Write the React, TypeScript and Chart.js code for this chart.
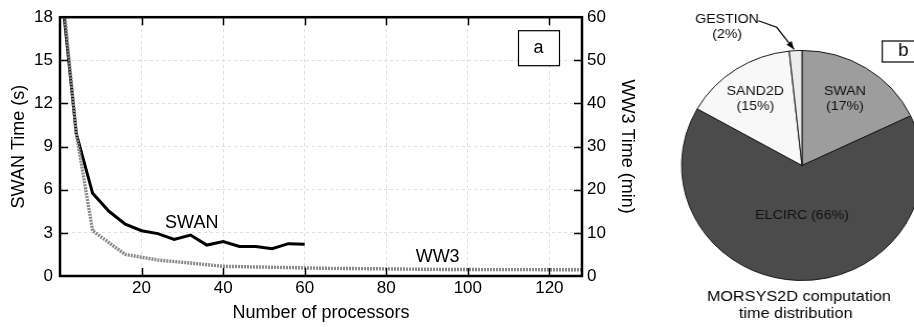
import React, { useEffect, useRef } from 'react';
import { Chart, registerables } from 'chart.js';

Chart.register(...registerables);

const FONT = '"Liberation Sans", Arial, Helvetica, sans-serif';

// ---- Panel a data ----
const swanProcs = [1, 4, 8, 12, 16, 20, 24, 28, 32, 36, 40, 44, 48, 52, 56, 60];
const swanTimes = [18.1, 9.9, 5.75, 4.5, 3.6, 3.15, 2.95, 2.55, 2.85, 2.15, 2.4, 2.05, 2.05, 1.9, 2.25, 2.2];
const ww3Procs = [1, 4, 8, 16, 24, 32, 40, 48, 64, 96, 128];
const ww3Times = [62, 33, 10.5, 5, 3.7, 3.0, 2.25, 2.1, 1.8, 1.5, 1.45];

// ---- Panel b data ----
const pieNames = ['SWAN', 'ELCIRC', 'SAND2D', 'GESTION'];
const pieShares = [17.9, 65.3, 15.1, 1.7];
const piePctText = ['(17%)', '(66%)', '(15%)', '(2%)'];
const pieColors = ['#9d9d9d', '#4b4b4b', '#f8f8f8', '#ececec'];

const PIE_W = 260;
const PIE_SX = 1.047;

const frameTicksPlugin = {
  id: 'frameTicks',
  afterDatasetsDraw(chart: any) {
    const { ctx, chartArea: a, scales } = chart;
    const TL = 8;
    ctx.save();
    ctx.strokeStyle = '#000';
    ctx.lineWidth = 1.5;
    ctx.beginPath();
    scales.x.ticks.forEach((t: any) => {
      if (t.value <= 0 || t.value >= scales.x.max) return;
      const px = Math.round(scales.x.getPixelForValue(t.value)) + 0.5;
      ctx.moveTo(px, a.top);
      ctx.lineTo(px, a.top + TL);
      ctx.moveTo(px, a.bottom);
      ctx.lineTo(px, a.bottom - TL);
    });
    scales.y.ticks.forEach((t: any) => {
      if (t.value <= 0 || t.value >= scales.y.max) return;
      const py = Math.round(scales.y.getPixelForValue(t.value)) + 0.5;
      ctx.moveTo(a.left, py);
      ctx.lineTo(a.left + TL, py);
    });
    scales.y2.ticks.forEach((t: any) => {
      if (t.value <= 0 || t.value >= scales.y2.max) return;
      const py = Math.round(scales.y2.getPixelForValue(t.value)) + 0.5;
      ctx.moveTo(a.right, py);
      ctx.lineTo(a.right - TL, py);
    });
    ctx.stroke();
    ctx.lineWidth = 2.5;
    ctx.strokeRect(a.left, a.top, a.right - a.left, a.bottom - a.top);

    ctx.fillStyle = '#000';
    ctx.font = `18px ${FONT}`;
    ctx.textAlign = 'center';
    ctx.textBaseline = 'middle';
    ctx.fillText('SWAN', scales.x.getPixelForValue(32.3), scales.y.getPixelForValue(3.68));
    ctx.fillText('WW3', scales.x.getPixelForValue(92.6), scales.y.getPixelForValue(1.35));

    // panel tag "a"
    const bw = 41, bh = 35;
    const bx = a.right - 23 - bw;
    const by = a.top + 13;
    ctx.lineWidth = 1.2;
    ctx.fillStyle = '#fff';
    ctx.fillRect(bx, by, bw, bh);
    ctx.strokeRect(bx + 0.5, by + 0.5, bw, bh);
    ctx.fillStyle = '#000';
    ctx.fillText('a', bx + bw / 2, by + bh / 2);
    ctx.restore();
  },
};

const pieTextPlugin = {
  id: 'pieText',
  afterDraw(chart: any) {
    const { ctx } = chart;
    const arc = chart.getDatasetMeta(0).data[0];
    const cx = arc.x, cy = arc.y;
    ctx.save();
    ctx.fillStyle = '#111';
    ctx.textAlign = 'center';
    ctx.textBaseline = 'middle';
    ctx.font = `13.5px ${FONT}`;
    ctx.fillText(pieNames[0], cx + 41.1, cy - 74);
    ctx.fillText(piePctText[0], cx + 41.1, cy - 58.8);
    ctx.fillText(pieNames[2], cx - 44.6, cy - 74);
    ctx.fillText(piePctText[2], cx - 44.6, cy - 58.8);
    ctx.fillText(`${pieNames[1]} ${piePctText[1]}`, cx, cy + 50);
    ctx.fillStyle = '#000';
    ctx.fillText(pieNames[3], cx - 71.6, cy - 146);
    ctx.fillText(piePctText[3], cx - 71.6, cy - 131);

    // arrow to GESTION slice
    ctx.strokeStyle = '#000';
    ctx.lineWidth = 1.2;
    const p0 = [cx - 41.7, cy - 144.8];
    const p1 = [cx - 24.2, cy - 138.2];
    const p2 = [cx - 7.6, cy - 116.2];
    ctx.beginPath();
    ctx.moveTo(p0[0], p0[1]);
    ctx.lineTo(p1[0], p1[1]);
    ctx.lineTo(p2[0], p2[1]);
    ctx.stroke();
    const ang = Math.atan2(p2[1] - p1[1], p2[0] - p1[0]);
    const hl = 8, hw = 3;
    ctx.beginPath();
    ctx.moveTo(p2[0], p2[1]);
    ctx.lineTo(p2[0] - hl * Math.cos(ang) + hw * Math.sin(ang), p2[1] - hl * Math.sin(ang) - hw * Math.cos(ang));
    ctx.lineTo(p2[0] - hl * Math.cos(ang) - hw * Math.sin(ang), p2[1] - hl * Math.sin(ang) + hw * Math.cos(ang));
    ctx.closePath();
    ctx.fill();

    // title
    ctx.font = `15.5px ${FONT}`;
    ctx.fillText('MORSYS2D computation', cx - 3, cy + 131.2);
    ctx.fillText('time distribution', cx - 6, cy + 148.3);

    // panel tag "b"
    const bx = cx + 76.1, by = cy - 125;
    const bw = 41.4, bh = 21;
    ctx.fillStyle = '#fff';
    ctx.fillRect(bx, by, bw, bh);
    ctx.strokeRect(bx + 0.5, by + 0.5, bw, bh);
    ctx.fillStyle = '#000';
    ctx.font = `18px ${FONT}`;
    ctx.fillText('b', cx + 96.8, cy - 114);
    ctx.restore();
  },
};

export default function App() {
  const lineRef = useRef<HTMLCanvasElement | null>(null);
  const pieRef = useRef<HTMLCanvasElement | null>(null);

  useEffect(() => {
    const lineChart = new Chart(lineRef.current as HTMLCanvasElement, {
      type: 'line',
      data: {
        datasets: [
          {
            label: 'WW3',
            data: ww3Procs.map((x, i) => ({ x, y: ww3Times[i] })),
            yAxisID: 'y2',
            borderColor: '#8a8a8a',
            borderWidth: 3.4,
            borderDash: [2, 1],
            pointRadius: 0,
            tension: 0,
            fill: false,
          },
          {
            label: 'SWAN',
            data: swanProcs.map((x, i) => ({ x, y: swanTimes[i] })),
            yAxisID: 'y',
            borderColor: '#000',
            borderWidth: 3,
            pointRadius: 0,
            tension: 0,
            fill: false,
          },
        ],
      },
      options: {
        responsive: false,
        animation: false,
        devicePixelRatio: 1,
        layout: { padding: { top: 13, left: 0, right: 0, bottom: 0 } },
        plugins: { legend: { display: false }, tooltip: { enabled: false } },
        scales: {
          x: {
            type: 'linear',
            min: 0,
            max: 128,
            ticks: {
              stepSize: 20,
              includeBounds: false,
              padding: 2,
              color: '#000',
              font: { family: FONT, size: 17 },
              callback: (v: any) => (v === 0 ? '' : String(v)),
            },
            grid: { color: '#dedede', lineWidth: 1, drawTicks: false },
            border: { display: false, dash: [3, 3] },
            title: {
              display: true,
              text: 'Number of processors',
              color: '#000',
              font: { family: FONT, size: 18 },
              padding: { top: 0, bottom: 3 },
            },
            afterFit: (s: any) => { s.height = 51; },
          },
          y: {
            type: 'linear',
            position: 'left',
            min: 0,
            max: 18,
            ticks: { stepSize: 3, padding: 7, color: '#000', font: { family: FONT, size: 17 } },
            grid: { color: '#dedede', lineWidth: 1, drawTicks: false },
            border: { display: false, dash: [3, 3] },
            title: {
              display: true,
              text: 'SWAN Time (s)',
              color: '#000',
              font: { family: FONT, size: 18 },
              padding: { top: 8, bottom: 0 },
            },
            afterFit: (s: any) => { s.width = 60; },
          },
          y2: {
            type: 'linear',
            position: 'right',
            min: 0,
            max: 60,
            ticks: { stepSize: 10, padding: 5, color: '#000', font: { family: FONT, size: 17 } },
            grid: { drawOnChartArea: false, drawTicks: false },
            border: { display: false },
            title: {
              display: true,
              text: 'WW3 Time (min)',
              color: '#000',
              font: { family: FONT, size: 18 },
              padding: { top: 7, bottom: 0 },
            },
            afterFit: (s: any) => { s.width = 63; },
          },
        },
      },
      plugins: [frameTicksPlugin],
    });

    const pieChart = new Chart(pieRef.current as HTMLCanvasElement, {
      type: 'pie',
      data: {
        labels: pieNames,
        datasets: [
          {
            data: pieShares,
            backgroundColor: pieColors,
            borderColor: '#1a1a1a',
            borderWidth: 1,
          },
        ],
      },
      options: {
        responsive: false,
        animation: false,
        devicePixelRatio: 1,
        layout: { padding: { top: 50, bottom: 46, left: 0, right: 0 } },
        plugins: { legend: { display: false }, tooltip: { enabled: false } },
      },
      plugins: [pieTextPlugin],
    });

    return () => {
      lineChart.destroy();
      pieChart.destroy();
    };
  }, []);

  return (
    <div
      style={{
        position: 'fixed',
        left: 0,
        top: 0,
        width: 914,
        height: 327,
        overflow: 'hidden',
        background: '#fff',
      }}
    >
      <canvas ref={lineRef} width={645} height={327} style={{ position: 'absolute', left: 0, top: 0 }} />
      <div
        style={{
          position: 'absolute',
          left: 802 - PIE_W / 2,
          top: 0,
          width: PIE_W,
          height: 327,
          transform: `scaleX(${PIE_SX})`,
          transformOrigin: `${PIE_W / 2}px 165px`,
        }}
      >
        <canvas ref={pieRef} width={PIE_W} height={327} style={{ position: 'absolute', left: 0, top: 0 }} />
      </div>
    </div>
  );
}
